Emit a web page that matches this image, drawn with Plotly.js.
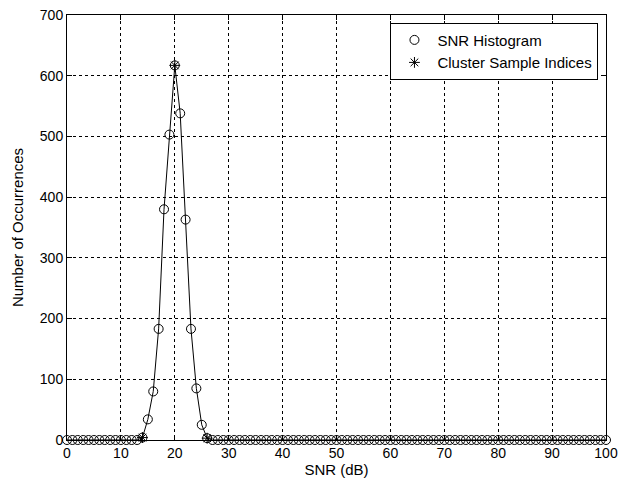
<!DOCTYPE html>
<html>
<head>
<meta charset="utf-8">
<script src="https://cdn.plot.ly/plotly-3.0.1.min.js"></script>
<style>
html,body{margin:0;padding:0;background:#fff;}
#chart{width:625px;height:487px;}
</style>
</head>
<body>
<div id="chart"></div>
<script>
// SNR bin centres (dB)
const snrBins = [0,1,2,3,4,5,6,7,8,9,10,11,12,13,14,15,16,17,18,19,20,21,22,23,24,25,26,27,28,29,30,31,32,33,34,35,36,37,38,39,40,41,42,43,44,45,46,47,48,49,50,51,52,53,54,55,56,57,58,59,60,61,62,63,64,65,66,67,68,69,70,71,72,73,74,75,76,77,78,79,80,81,82,83,84,85,86,87,88,89,90,91,92,93,94,95,96,97,98,99,100];
// Histogram counts per bin
const counts = [0,0,0,0,0,0,0,0,0,0,0,0,0,0,4,34,80,183,380,503,617,538,363,183,85,25,3,0,0,0,0,0,0,0,0,0,0,0,0,0,0,0,0,0,0,0,0,0,0,0,0,0,0,0,0,0,0,0,0,0,0,0,0,0,0,0,0,0,0,0,0,0,0,0,0,0,0,0,0,0,0,0,0,0,0,0,0,0,0,0,0,0,0,0,0,0,0,0,0,0,0];
// Cluster sample indices
const clusterSnr = [14,20,26];
const clusterCounts = [4,617,3];

const xTicks = [0,10,20,30,40,50,60,70,80,90,100];
const yTicks = [0,100,200,300,400,500,600,700];

const fam = 'Arial, "Liberation Sans", sans-serif';
const tickFont = {family: fam, size: 14, color: '#000'};
const titleFont = {family: fam, size: 15, color: '#000'};

const traces = [
  {x: snrBins, y: counts, type: 'scatter', mode: 'lines',
   line: {color: '#000', width: 1}, showlegend: false, hoverinfo: 'skip', cliponaxis: false},
  {x: snrBins, y: counts, type: 'scatter', mode: 'markers', name: 'SNR Histogram',
   marker: {symbol: 'circle-open', size: 9, color: '#000', line: {color: '#000', width: 1}}, cliponaxis: false},
  {x: clusterSnr, y: clusterCounts, type: 'scatter', mode: 'markers', name: 'Cluster Sample Indices',
   marker: {symbol: 'asterisk-open', size: 9, color: '#000', line: {color: '#000', width: 1}}, cliponaxis: false}
];

const axisCommon = {
  showline: true, linecolor: '#000', linewidth: 1, mirror: 'ticks',
  ticks: 'inside', ticklen: 5, tickcolor: '#000', tickwidth: 1,
  showgrid: true, gridcolor: '#000', gridwidth: 1, griddash: '3px,3px',
  zeroline: false, tickfont: tickFont
};

const layout = {
  width: 625, height: 487,
  margin: {l: 67, r: 19, t: 15, b: 47},
  paper_bgcolor: '#fff', plot_bgcolor: '#fff',
  font: tickFont,
  xaxis: Object.assign({}, axisCommon, {
    range: [0, 100], tickvals: xTicks, ticktext: xTicks.map(String),
    title: {text: 'SNR (dB)', font: titleFont, standoff: 4}
  }),
  yaxis: Object.assign({}, axisCommon, {
    range: [0, 700], tickvals: yTicks, ticktext: yTicks.map(String),
    title: {text: 'Number of Occurrences', font: titleFont, standoff: 12}
  }),
  legend: {
    x: 0.986, xanchor: 'right', y: 0.982, yanchor: 'top',
    bgcolor: '#fff', bordercolor: '#000', borderwidth: 1,
    font: {family: fam, size: 15, color: '#000'},
    itemwidth: 36, tracegroupgap: 0
  },
  showlegend: true
};

Plotly.newPlot('chart', traces, layout, {displayModeBar: false, staticPlot: true});
</script>
</body>
</html>
